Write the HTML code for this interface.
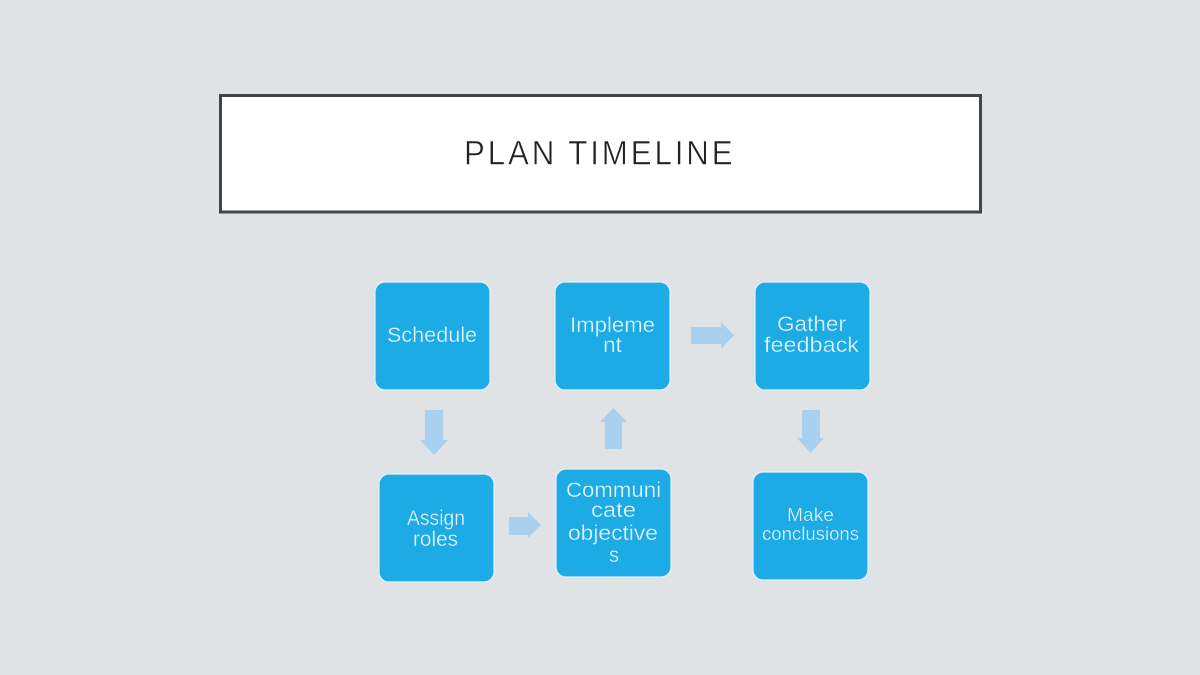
<!DOCTYPE html>
<html>
<head>
<meta charset="utf-8">
<style>
html,body{margin:0;padding:0;width:1200px;height:675px;overflow:hidden;background:#dfe3e6}
svg{display:block}
.b{fill:#1dabe6;stroke:#e3f3fa;stroke-width:1.2}
.a{fill:#a9d1ef}
.t{font-family:"Liberation Sans",sans-serif;font-size:21px;fill:#eef9fe;stroke:#1dabe6;stroke-width:.35px}
.s{font-size:18.5px}
</style>
</head>
<body>
<svg width="1200" height="675" viewBox="0 0 1200 675" xmlns="http://www.w3.org/2000/svg">
<rect x="220.5" y="95.5" width="760" height="116.5" fill="#fff" stroke="#444" stroke-width="3"/>
<text transform="translate(464 164.5) scale(.92 1)" x="0" y="0" textLength="292" lengthAdjust="spacing" font-family="Liberation Sans, sans-serif" font-size="34" fill="#222" stroke="#fff" stroke-width=".55">PLAN TIMELINE</text>

<rect class="b" x="375" y="282" width="115" height="108" rx="10"/>
<rect class="b" x="555" y="282" width="115" height="108" rx="10"/>
<rect class="b" x="755" y="282" width="115" height="108" rx="10"/>
<rect class="b" x="379" y="474" width="115" height="108" rx="10"/>
<rect class="b" x="556" y="469" width="115" height="108" rx="10"/>
<rect class="b" x="753" y="472" width="115" height="108" rx="10"/>

<polygon class="a" points="425,410 443,410 443,440 448,440 434,455 420,440 425,440"/>
<polygon class="a" points="605,449 622,449 622,422 627,422 613.5,408 600,422 605,422"/>
<polygon class="a" points="509,517 528,517 528,512 541,525 528,538 528,535 509,535"/>
<polygon class="a" points="691,327 721,327 721,322 734,335.5 721,349 721,344 691,344"/>
<polygon class="a" points="802,410 820,410 820,438 824,438 810.5,453 797,438 802,438"/>

<text class="t" x="387" y="342" textLength="90" lengthAdjust="spacingAndGlyphs">Schedule</text>
<text class="t" x="570" y="332" textLength="85" lengthAdjust="spacingAndGlyphs">Impleme</text>
<text class="t" x="603" y="352" textLength="19" lengthAdjust="spacingAndGlyphs">nt</text>
<text class="t" x="777" y="331" textLength="69" lengthAdjust="spacingAndGlyphs">Gather</text>
<text class="t" x="764" y="352" textLength="95" lengthAdjust="spacingAndGlyphs">feedback</text>
<text class="t" x="407" y="525" textLength="58" lengthAdjust="spacingAndGlyphs">Assign</text>
<text class="t" x="413" y="546" textLength="45" lengthAdjust="spacingAndGlyphs">roles</text>
<text class="t" x="566" y="497" textLength="95" lengthAdjust="spacingAndGlyphs">Communi</text>
<text class="t" x="591" y="517" textLength="45" lengthAdjust="spacingAndGlyphs">cate</text>
<text class="t" x="568" y="540" textLength="90" lengthAdjust="spacingAndGlyphs">objective</text>
<text class="t" x="609" y="562" textLength="10" lengthAdjust="spacingAndGlyphs">s</text>
<text class="t s" x="787" y="521" textLength="47" lengthAdjust="spacingAndGlyphs">Make</text>
<text class="t s" x="762" y="540" textLength="97" lengthAdjust="spacingAndGlyphs">conclusions</text>
</svg>
</body>
</html>
